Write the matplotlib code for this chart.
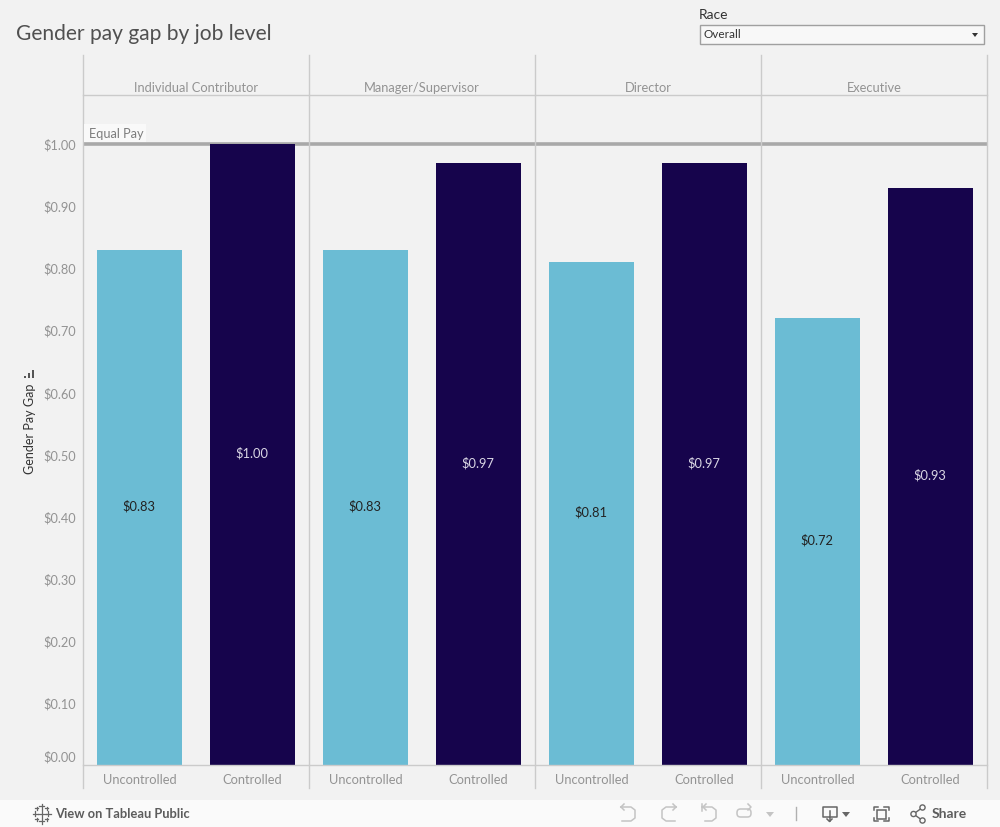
#!/usr/bin/env python3
import matplotlib

matplotlib.use("Agg")
import matplotlib.pyplot as plt  # noqa: E402
from matplotlib.patches import Rectangle, Circle, Polygon, FancyBboxPatch  # noqa: E402
from matplotlib.transforms import Affine2D  # noqa: E402

# -------------------------------
# Data
# -------------------------------
job_levels = ["Individual Contributor", "Manager/Supervisor", "Director", "Executive"]
control_types = ["Uncontrolled", "Controlled"]
uncontrolled = [0.83, 0.83, 0.81, 0.72]
controlled = [1.00, 0.97, 0.97, 0.93]
y_ticks = [0.0, 0.1, 0.2, 0.3, 0.4, 0.5, 0.6, 0.7, 0.8, 0.9, 1.0]
equal_pay = 1.0

BG = "#f2f2f2"
LIGHT_BAR = "#6bbcd4"
DARK_BAR = "#16044c"
GRID = "#cbcbcb"
TICK_TEXT = "#939393"
W, H = 1000, 827

plt.rcParams["font.family"] = ["Lato", "DejaVu Sans"]

fig = plt.figure(figsize=(W / 100, H / 100), dpi=100, facecolor=BG)

# Overlay in pixel coordinates for the dashboard chrome
ui = fig.add_axes([0, 0, 1, 1], zorder=3)
ui.set_xlim(0, W)
ui.set_ylim(H, 0)
ui.axis("off")
ui.patch.set_alpha(0)

# Main bars, one unit per bar slot
left, right, top, bottom = 83.0, 987.0, 95.0, 765.4
y_scale = 621.0
ax = fig.add_axes([left / W, 1 - bottom / H, (right - left) / W, (bottom - top) / H], zorder=2)
ax.patch.set_alpha(0)
ax.set_xlim(-0.5, 2 * len(job_levels) - 0.5)
ax.set_ylim(0, (bottom - top) / y_scale)

for i in range(len(job_levels)):
    pairs = [(2 * i, uncontrolled[i], LIGHT_BAR, "#222222"), (2 * i + 1, controlled[i], DARK_BAR, "#d9d6e4")]
    for x, val, color, txt in pairs:
        ax.bar(x, val, width=0.752, color=color, linewidth=0, zorder=2)
        ax.text(x - 0.007, val / 2 + 0.002, f"${val:.2f}", ha="center", va="center", fontsize=9.3, color=txt, zorder=3)

# The bars sit over the reference line
ax.axhline(equal_pay, color="#a9a9a9", linewidth=2.6, zorder=1)

for s in ax.spines.values():
    s.set_visible(False)
ax.set_xticks([])
ax.set_yticks(y_ticks)
ax.set_yticklabels([f"${t:.2f}" for t in y_ticks], fontsize=9.2, color=TICK_TEXT)
ax.tick_params(axis="y", length=0, pad=5)
# Bottom tick label is nudged up inside the axis, as Tableau does
zero_label = ax.yaxis.get_major_ticks()[0].label1
zero_label.set_va("bottom")
zero_label.set_transform(zero_label.get_transform() + Affine2D().translate(0, 1.5))

# Panel dividers and header rules
for i in range(len(job_levels) + 1):
    x = left + (right - left) * i / len(job_levels)
    ui.plot([x, x], [55, 788], color=GRID, linewidth=1, zorder=1)
ui.plot([left, right], [top, top], color=GRID, linewidth=1, zorder=1)
ui.plot([left, right], [bottom, bottom], color=GRID, linewidth=1, zorder=1)

# Headers and category labels
for i, name in enumerate(job_levels):
    cx = left + (right - left) * (i + 0.5) / len(job_levels)
    ui.text(cx, 87.5, name, ha="center", va="center", fontsize=9.3, color=TICK_TEXT)
    for j, ctl in enumerate(control_types):
        lx = left + 56.5 + 113 * (2 * i + j)
        ui.text(lx, 779.5, ctl, ha="center", va="center", fontsize=9.3, color=TICK_TEXT)

# Title, annotation, axis label
ui.text(16, 34, "Gender pay gap by job level", ha="left", va="center", fontsize=15.1, color="#505050")
ui.add_patch(Rectangle((84, 124), 62, 18, facecolor="#f9f9f9", linewidth=0))
ui.text(89, 134.5, "Equal Pay", ha="left", va="center", fontsize=9.2, color="#7d7d7d")
ui.text(30, 429, "Gender Pay Gap", rotation=90, ha="center", va="center", fontsize=9, color="#333333")
for k, h in enumerate([2, 5, 8]):
    ui.add_patch(Rectangle((24 + k * 4 - 0.5, 378 - h), 2.4, h, facecolor="#555555", linewidth=0))

# Race filter
ui.text(699, 15, "Race", ha="left", va="center", fontsize=10, color="#333333")
ui.add_patch(Rectangle((700, 25), 284, 19, facecolor="#f8f8f8", edgecolor="#a0a0a0", linewidth=1))
ui.text(704, 35, "Overall", ha="left", va="center", fontsize=8.5, color="#333333")
ui.add_patch(Polygon([(972, 33), (978, 33), (975, 37)], facecolor="#333333", linewidth=0))

# Toolbar strip
ui.add_patch(Rectangle((0, 800), W, 27, facecolor="#fafafa", linewidth=0))
ui.text(55, 814, "View on Tableau Public", ha="left", va="center", fontsize=9.3, color="#5c5c5c", fontweight="bold")
ui.text(932, 814, "Share", ha="left", va="center", fontsize=10, color="#5c5c5c", fontweight="bold")

# Tableau logo
icon = "#666666"
for cx, cy, r in [(41.5, 813.5, 4), (41.5, 806, 2.5), (41.5, 821, 2.5), (35, 813.5, 2.5), (48, 813.5, 2.5),
                  (36.5, 808, 1.5), (46.5, 808, 1.5), (36.5, 819, 1.5), (46.5, 819, 1.5)]:
    ui.plot([cx - r, cx + r], [cy, cy], color=icon, linewidth=0.9)
    ui.plot([cx, cx], [cy - r, cy + r], color=icon, linewidth=0.9)

# Undo / redo / revert / refresh
faded = "#c4c4c4"
ui.plot([621, 631, 635, 635, 631, 622], [807, 807, 810, 818, 821, 821], color=faded, linewidth=1.1)
ui.plot([621, 624], [807, 804], color=faded, linewidth=1.1)
ui.plot([621, 624], [807, 810], color=faded, linewidth=1.1)
ui.plot([676, 666, 662, 662, 666, 675], [807, 807, 810, 818, 821, 821], color=faded, linewidth=1.1)
ui.plot([676, 673], [807, 804], color=faded, linewidth=1.1)
ui.plot([676, 673], [807, 810], color=faded, linewidth=1.1)
ui.plot([702, 712, 716, 716, 712, 705], [807, 807, 810, 818, 821, 821], color=faded, linewidth=1.1)
ui.plot([702, 702], [804, 811], color=faded, linewidth=1.1)
ui.plot([703, 706], [807, 804], color=faded, linewidth=1.1)
ui.plot([703, 706], [807, 810], color=faded, linewidth=1.1)
ui.add_patch(FancyBboxPatch((737, 809), 14, 8, boxstyle="round,pad=0,rounding_size=3.5", facecolor="none",
                            edgecolor=faded, linewidth=1.1))
ui.plot([748, 751, 748], [804, 807, 810], color=faded, linewidth=1.1)
ui.add_patch(Polygon([(766, 812), (774, 812), (770, 817)], facecolor=faded, linewidth=0))
ui.plot([795.5, 795.5], [807, 820], color="#b0b0b0", linewidth=1)

# Download
ui.plot([829, 822.5, 822.5, 836.5, 836.5, 830], [817, 817, 806.5, 806.5, 817, 817], color=icon, linewidth=1.1)
ui.plot([829.5, 829.5], [811, 821], color=icon, linewidth=1.1)
ui.plot([827, 829.5, 832], [819, 821.5, 819], color=icon, linewidth=1.1)
ui.add_patch(Polygon([(842, 812), (850, 812), (846, 817)], facecolor=icon, linewidth=0))

# Fullscreen
for xs, ys in [([873.5, 873.5, 878], [810, 806.5, 806.5]), ([884, 888.5, 888.5], [806.5, 806.5, 810]),
               ([873.5, 873.5, 878], [817.5, 821, 821]), ([884, 888.5, 888.5], [821, 821, 817.5])]:
    ui.plot(xs, ys, color=icon, linewidth=1.1)
ui.add_patch(Rectangle((876.5, 809.5), 9, 9, facecolor="none", edgecolor=icon, linewidth=1.1))

# Share
ui.plot([922.5, 913.5, 922.5], [807.5, 814, 820.5], color=icon, linewidth=1)
for cx, cy in [(922.5, 807.5), (913.5, 814), (922.5, 820.5)]:
    ui.add_patch(Circle((cx, cy), 2.6, facecolor="#fafafa", edgecolor=icon, linewidth=1, zorder=3))

fig.savefig("out.png", dpi=100, facecolor=BG)
